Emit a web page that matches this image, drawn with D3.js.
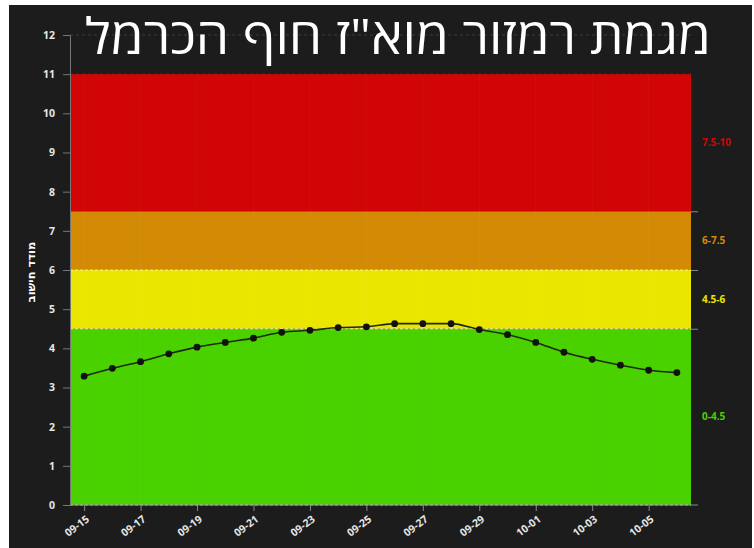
<!DOCTYPE html>
<html>
<head>
<meta charset="utf-8">
<script src="https://cdn.jsdelivr.net/npm/d3@7"></script>
<style>
  html, body { margin: 0; padding: 0; background: #fff; }
  svg { display: block; }
</style>
</head>
<body>
<div id="chart"></div>
<script>
// daily values
const dates = ['09-15', '09-16', '09-17', '09-18', '09-19', '09-20', '09-21', '09-22', '09-23', '09-24', '09-25',
  '09-26', '09-27', '09-28', '09-29', '09-30', '10-01', '10-02', '10-03', '10-04', '10-05', '10-06'];
const values = [3.29, 3.49, 3.66, 3.86, 4.03, 4.15, 4.26, 4.41, 4.46, 4.53, 4.55,
  4.63, 4.63, 4.63, 4.48, 4.35, 4.15, 3.90, 3.72, 3.57, 3.44, 3.38];

// traffic light bands
const bandFrom = [0, 4.5, 6, 7.5];
const bandTo = [4.5, 6, 7.5, 11];
const bandColors = ['#49d100', '#ebe600', '#d38b06', '#d10505'];
const bandLabels = ['0-4.5', '4.5-6', '6-7.5', '7.5-10'];

const yTicks = [0, 1, 2, 3, 4, 5, 6, 7, 8, 9, 10, 11, 12];
const xTicks = ['09-15', '09-17', '09-19', '09-21', '09-23', '09-25', '09-27', '09-29', '10-01', '10-03', '10-05'];
const rightTicks = [4.5, 6, 7.5];

const title = 'מגמת רמזור מוא"ז חוף הכרמל';
const yLabel = 'מודד חישוב';

const width = 754;
const height = 548;
const margin = { top: 35, right: 63, bottom: 43, left: 70 };

const svg = d3.select('#chart')
  .append('svg')
  .attr('width', width)
  .attr('height', height);

// dark card with a thin white edge
svg.append('rect')
  .attr('x', 9).attr('y', 5)
  .attr('width', width - 11).attr('height', height - 5)
  .attr('fill', '#1c1c1c');

const x = d3.scalePoint()
  .domain(dates)
  .range([margin.left, width - margin.right])
  .padding(0.5);

const y = d3.scaleLinear()
  .domain([0, 12])
  .range([height - margin.bottom, margin.top]);

// faint horizontal grid
svg.append('g')
  .selectAll('line')
  .data(yTicks)
  .join('line')
  .attr('x1', margin.left).attr('x2', width - margin.right)
  .attr('y1', d => y(d)).attr('y2', d => y(d))
  .attr('stroke', '#555')
  .attr('stroke-width', 0.6)
  .attr('stroke-dasharray', '3,3');

// bands
svg.append('g')
  .selectAll('rect')
  .data(bandFrom)
  .join('rect')
  .attr('x', margin.left)
  .attr('width', width - margin.right - margin.left)
  .attr('y', (d, i) => y(bandTo[i]))
  .attr('height', (d, i) => y(d) - y(bandTo[i]))
  .attr('fill', (d, i) => bandColors[i]);

// faint vertical grid over the bands
svg.append('g')
  .selectAll('line')
  .data(xTicks)
  .join('line')
  .attr('x1', d => x(d)).attr('x2', d => x(d))
  .attr('y1', y(11)).attr('y2', y(0))
  .attr('stroke', 'rgba(255,255,255,0.035)')
  .attr('stroke-width', 1);

// dashed band borders
svg.append('g')
  .selectAll('line')
  .data([0, 4.5, 6])
  .join('line')
  .attr('x1', margin.left).attr('x2', width - margin.right)
  .attr('y1', d => y(d)).attr('y2', d => y(d))
  .attr('stroke', 'rgba(255,255,255,0.7)')
  .attr('stroke-width', 1)
  .attr('stroke-dasharray', '3,2');

// Y-axis
const yAxis = svg.append('g')
  .attr('transform', `translate(${margin.left},0)`)
  .call(d3.axisLeft(y).tickValues(yTicks).tickSize(7).tickPadding(8));
yAxis.select('.domain').attr('stroke', '#777');
yAxis.selectAll('.tick line').attr('stroke', '#777');
yAxis.selectAll('text')
  .attr('fill', '#e6e6e6')
  .style('font-family', '"Open Sans", sans-serif')
  .style('font-size', '10.5px')
  .style('font-weight', 'bold');

// right ticks at band borders
const rAxis = svg.append('g')
  .attr('transform', `translate(${width - margin.right},0)`)
  .call(d3.axisRight(y).tickValues(rightTicks).tickSize(7).tickFormat(''));
rAxis.select('.domain').remove();
rAxis.selectAll('.tick line').attr('stroke', '#888');

// X-axis
const xAxis = svg.append('g')
  .attr('transform', `translate(0,${height - margin.bottom})`)
  .call(d3.axisBottom(x).tickValues(xTicks).tickSize(6).tickSizeOuter(0));
xAxis.select('.domain')
  .attr('stroke', '#888')
  .attr('d', `M${margin.left},0H${width - margin.right + 7}`);
xAxis.selectAll('.tick line').attr('stroke', '#888');
xAxis.selectAll('text')
  .attr('fill', '#e6e6e6')
  .style('font-family', '"Open Sans", sans-serif')
  .style('font-size', '10.5px')
  .style('font-weight', 'bold')
  .attr('text-anchor', 'end')
  .attr('x', -5)
  .attr('y', 12)
  .attr('dy', '0.35em')
  .attr('transform', 'rotate(-37)');

// band labels on the right
svg.append('g')
  .selectAll('text')
  .data(bandLabels)
  .join('text')
  .attr('x', width - margin.right + 11)
  .attr('y', (d, i) => y((bandFrom[i] + bandTo[i]) / 2))
  .attr('dy', '0.35em')
  .attr('fill', (d, i) => bandColors[i])
  .style('font-family', '"Open Sans", sans-serif')
  .style('font-size', '10px')
  .style('font-weight', 'bold')
  .text(d => d);

// the line
const line = d3.line()
  .x((d, i) => x(dates[i]))
  .y(d => y(d))
  .curve(d3.curveMonotoneX);

svg.append('path')
  .datum(values)
  .attr('fill', 'none')
  .attr('stroke', '#1f2a10')
  .attr('stroke-width', 1.6)
  .attr('d', line);

svg.append('g')
  .selectAll('circle')
  .data(values)
  .join('circle')
  .attr('cx', (d, i) => x(dates[i]))
  .attr('cy', d => y(d))
  .attr('r', 3.4)
  .attr('fill', '#111');

// Y-axis label
svg.append('text')
  .attr('transform', `translate(31,${(y(7) + y(5)) / 2 + 2}) rotate(-90)`)
  .attr('text-anchor', 'middle')
  .attr('direction', 'rtl')
  .attr('dy', '0.35em')
  .attr('fill', '#fff')
  .style('font-family', '"DejaVu Sans", sans-serif')
  .style('font-size', '11.5px')
  .style('font-weight', 'bold')
  .text(yLabel);

// Title
svg.append('text')
  .attr('x', 398)
  .attr('y', 54)
  .attr('text-anchor', 'middle')
  .attr('direction', 'rtl')
  .attr('fill', '#fff')
  .attr('textLength', 626)
  .attr('lengthAdjust', 'spacingAndGlyphs')
  .style('font-family', '"Open Sans", "Liberation Sans", sans-serif')
  .style('font-size', '50px')
  .text(title);
</script>
</body>
</html>
